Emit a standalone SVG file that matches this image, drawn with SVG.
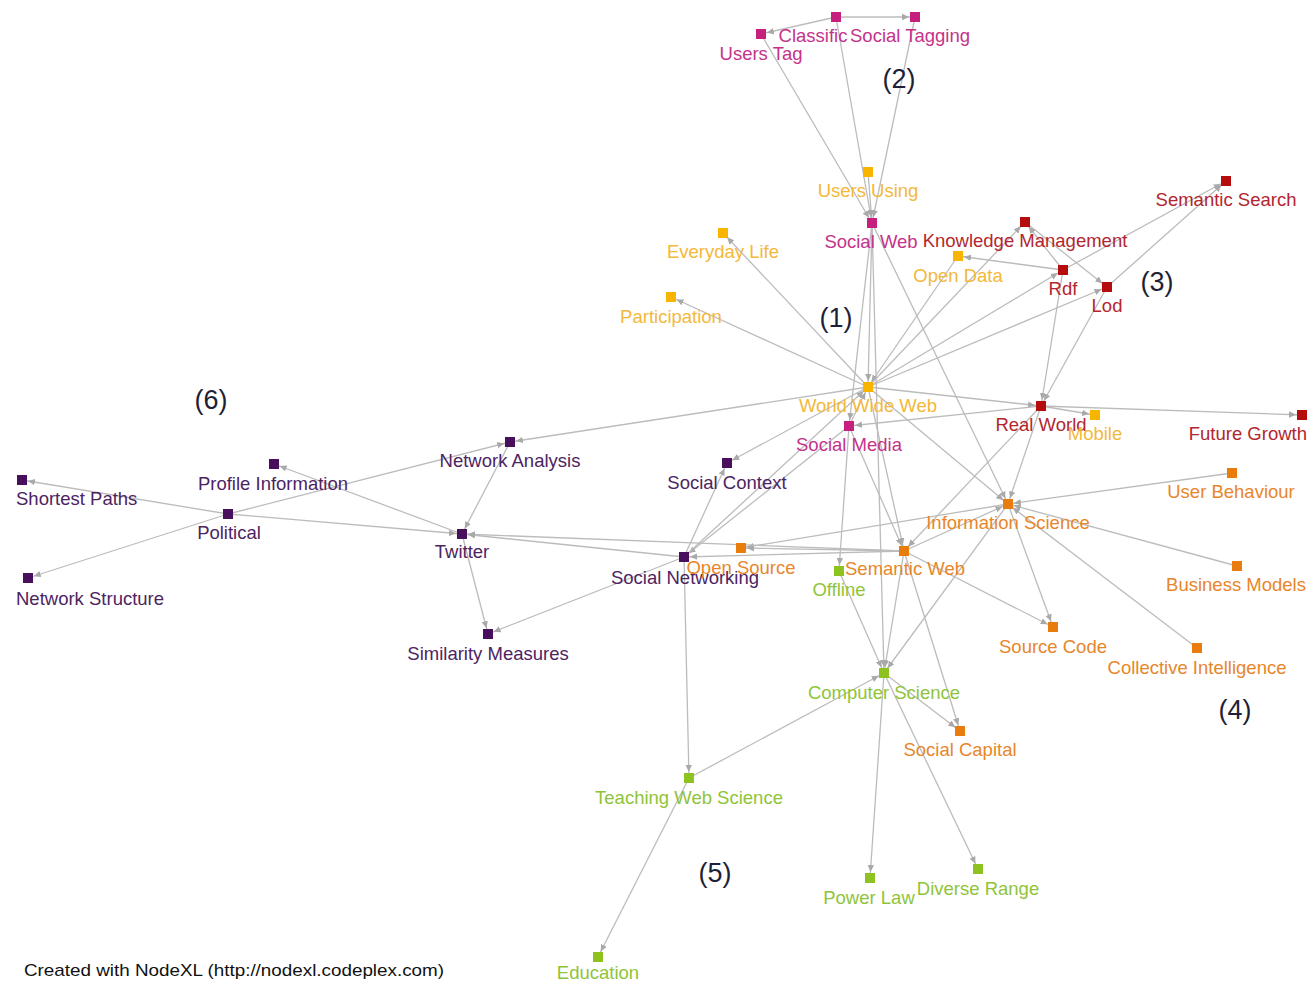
<svg xmlns="http://www.w3.org/2000/svg" width="1315" height="982" viewBox="0 0 1315 982">
<style>
text{font-family:"Liberation Sans",Arial,sans-serif;font-size:18.5px;text-anchor:middle}
.e line{stroke:#bcbcbc;stroke-width:1.3;fill:none}
.pk rect{fill:#c71f7d}.pk text{fill:#c4338a}
.yl rect{fill:#f7b500}.yl text{fill:#f4b83a}
.rd rect{fill:#b50d0d}.rd text{fill:#b3262e}
.or rect{fill:#e87d0d}.or text{fill:#e8862a}
.gr rect{fill:#8dc21f}.gr text{fill:#8fc43a}
.pu rect{fill:#4a0f5c}.pu text{fill:#4d2462}
.cl{font-family:"Liberation Sans",Arial,sans-serif;font-size:27px;fill:#1f1f38}
.ft{font-size:17px;text-anchor:start;fill:#111}
</style>
<defs>
<marker id="a" markerUnits="userSpaceOnUse" viewBox="0 0 14 8" refX="13" refY="4" markerWidth="14" markerHeight="8" orient="auto">
<path d="M0,0.8 L7,4 L0,7.2 Z" fill="#a9a9a9"/>
</marker>
</defs>
<rect width="1315" height="982" fill="#fff"/>
<g id="connectors" class="e" marker-end="url(#a)">
<line x1="836" y1="17" x2="915" y2="17" marker-end="url(#a)"/>
<line x1="836" y1="17" x2="761" y2="34" marker-end="url(#a)"/>
<line x1="761" y1="34" x2="872" y2="223" marker-end="url(#a)"/>
<line x1="836" y1="17" x2="872" y2="223" marker-end="url(#a)"/>
<line x1="915" y1="17" x2="872" y2="223" marker-end="url(#a)"/>
<line x1="868" y1="172" x2="872" y2="223" marker-end="url(#a)"/>
<line x1="872" y1="223" x2="868" y2="387" marker-end="url(#a)"/>
<line x1="872" y1="223" x2="849" y2="426" marker-end="url(#a)"/>
<line x1="872" y1="223" x2="884" y2="673" marker-end="url(#a)"/>
<line x1="872" y1="223" x2="1008" y2="504" marker-end="url(#a)"/>
<line x1="868" y1="387" x2="723" y2="233" marker-end="url(#a)"/>
<line x1="868" y1="387" x2="671" y2="297" marker-end="url(#a)"/>
<line x1="958" y1="256" x2="868" y2="387" marker-end="url(#a)"/>
<line x1="868" y1="387" x2="1025" y2="222" marker-end="url(#a)"/>
<line x1="868" y1="387" x2="1063" y2="270" marker-end="url(#a)"/>
<line x1="868" y1="387" x2="1107" y2="287" marker-end="url(#a)"/>
<line x1="868" y1="387" x2="1041" y2="406" marker-end="url(#a)"/>
<line x1="868" y1="387" x2="1008" y2="504" marker-end="url(#a)"/>
<line x1="868" y1="387" x2="510" y2="442" marker-end="url(#a)"/>
<line x1="868" y1="387" x2="727" y2="463" marker-end="url(#a)"/>
<line x1="868" y1="387" x2="904" y2="551" marker-end="url(#a)"/>
<line x1="849" y1="426" x2="868" y2="387" marker-end="url(#a)"/>
<line x1="1063" y1="270" x2="958" y2="256" marker-end="url(#a)"/>
<line x1="1063" y1="270" x2="1025" y2="222" marker-end="url(#a)"/>
<line x1="1025" y1="222" x2="1107" y2="287" marker-end="url(#a)"/>
<line x1="1063" y1="270" x2="1226" y2="181" marker-end="url(#a)"/>
<line x1="1107" y1="287" x2="1226" y2="181" marker-end="url(#a)"/>
<line x1="1063" y1="270" x2="1041" y2="406" marker-end="url(#a)"/>
<line x1="1107" y1="287" x2="1041" y2="406" marker-end="url(#a)"/>
<line x1="1041" y1="406" x2="849" y2="426" marker-end="url(#a)"/>
<line x1="1041" y1="406" x2="1095" y2="415" marker-end="url(#a)"/>
<line x1="1041" y1="406" x2="1302" y2="415" marker-end="url(#a)"/>
<line x1="1041" y1="406" x2="1008" y2="504" marker-end="url(#a)"/>
<line x1="1041" y1="406" x2="904" y2="551" marker-end="url(#a)"/>
<line x1="1232" y1="473" x2="1008" y2="504" marker-end="url(#a)"/>
<line x1="1237" y1="566" x2="1008" y2="504" marker-end="url(#a)"/>
<line x1="1197" y1="648" x2="1008" y2="504" marker-end="url(#a)"/>
<line x1="1008" y1="504" x2="1053" y2="627" marker-end="url(#a)"/>
<line x1="1008" y1="504" x2="884" y2="673" marker-end="url(#a)"/>
<line x1="1008" y1="504" x2="741" y2="548" marker-end="url(#a)"/>
<line x1="904" y1="551" x2="1008" y2="504" marker-end="url(#a)"/>
<line x1="904" y1="551" x2="741" y2="548" marker-end="url(#a)"/>
<line x1="904" y1="551" x2="462" y2="534" marker-end="url(#a)"/>
<line x1="904" y1="551" x2="684" y2="557" marker-end="url(#a)"/>
<line x1="904" y1="551" x2="884" y2="673" marker-end="url(#a)"/>
<line x1="904" y1="551" x2="960" y2="731" marker-end="url(#a)"/>
<line x1="904" y1="551" x2="1053" y2="627" marker-end="url(#a)"/>
<line x1="849" y1="426" x2="904" y2="551" marker-end="url(#a)"/>
<line x1="849" y1="426" x2="839" y2="571" marker-end="url(#a)"/>
<line x1="839" y1="571" x2="884" y2="673" marker-end="url(#a)"/>
<line x1="689" y1="778" x2="884" y2="673" marker-end="url(#a)"/>
<line x1="884" y1="673" x2="870" y2="878" marker-end="url(#a)"/>
<line x1="884" y1="673" x2="978" y2="869" marker-end="url(#a)"/>
<line x1="884" y1="673" x2="960" y2="731" marker-end="url(#a)"/>
<line x1="684" y1="557" x2="689" y2="778" marker-end="url(#a)"/>
<line x1="689" y1="778" x2="598" y2="957" marker-end="url(#a)"/>
<line x1="684" y1="557" x2="488" y2="634" marker-end="url(#a)"/>
<line x1="684" y1="557" x2="462" y2="534" marker-end="url(#a)"/>
<line x1="684" y1="557" x2="727" y2="463" marker-end="url(#a)"/>
<line x1="849" y1="426" x2="684" y2="557" marker-end="url(#a)"/>
<line x1="684" y1="557" x2="868" y2="387" marker-end="url(#a)"/>
<line x1="462" y1="534" x2="488" y2="634" marker-end="url(#a)"/>
<line x1="510" y1="442" x2="462" y2="534" marker-end="url(#a)"/>
<line x1="462" y1="534" x2="274" y2="464" marker-end="url(#a)"/>
<line x1="228" y1="514" x2="462" y2="534" marker-end="url(#a)"/>
<line x1="228" y1="514" x2="510" y2="442" marker-end="url(#a)"/>
<line x1="228" y1="514" x2="22" y2="480" marker-end="url(#a)"/>
<line x1="228" y1="514" x2="28" y2="578" marker-end="url(#a)"/>
</g>
<g id="n-users-tag" class="pk"><rect x="756" y="29" width="10" height="10"/><text x="761" y="60">Users Tag</text></g>
<g id="n-classific" class="pk"><rect x="831" y="12" width="10" height="10"/><text x="813" y="42">Classific</text></g>
<g id="n-social-tagging" class="pk"><rect x="910" y="12" width="10" height="10"/><text x="910" y="42">Social Tagging</text></g>
<g id="n-users-using" class="yl"><rect x="863" y="167" width="10" height="10"/><text x="868" y="197">Users Using</text></g>
<g id="n-social-web" class="pk"><rect x="867" y="218" width="10" height="10"/><text x="871" y="248">Social Web</text></g>
<g id="n-knowledge-management" class="rd"><rect x="1020" y="217" width="10" height="10"/><text x="1025" y="247">Knowledge Management</text></g>
<g id="n-everyday-life" class="yl"><rect x="718" y="228" width="10" height="10"/><text x="723" y="258">Everyday Life</text></g>
<g id="n-open-data" class="yl"><rect x="953" y="251" width="10" height="10"/><text x="958" y="282">Open Data</text></g>
<g id="n-rdf" class="rd"><rect x="1058" y="265" width="10" height="10"/><text x="1063" y="295">Rdf</text></g>
<g id="n-lod" class="rd"><rect x="1102" y="282" width="10" height="10"/><text x="1107" y="312">Lod</text></g>
<g id="n-semantic-search" class="rd"><rect x="1221" y="176" width="10" height="10"/><text x="1226" y="206">Semantic Search</text></g>
<g id="n-participation" class="yl"><rect x="666" y="292" width="10" height="10"/><text x="671" y="323">Participation</text></g>
<g id="n-world-wide-web" class="yl"><rect x="863" y="382" width="10" height="10"/><text x="868" y="412">World Wide Web</text></g>
<g id="n-real-world" class="rd"><rect x="1036" y="401" width="10" height="10"/><text x="1041" y="431">Real World</text></g>
<g id="n-mobile" class="yl"><rect x="1090" y="410" width="10" height="10"/><text x="1095" y="440">Mobile</text></g>
<g id="n-future-growth" class="rd"><rect x="1297" y="410" width="10" height="10"/><text x="1307" y="440" style="text-anchor:end">Future Growth</text></g>
<g id="n-social-media" class="pk"><rect x="844" y="421" width="10" height="10"/><text x="849" y="451">Social Media</text></g>
<g id="n-network-analysis" class="pu"><rect x="505" y="437" width="10" height="10"/><text x="510" y="467">Network Analysis</text></g>
<g id="n-social-context" class="pu"><rect x="722" y="458" width="10" height="10"/><text x="727" y="489">Social Context</text></g>
<g id="n-profile-information" class="pu"><rect x="269" y="459" width="10" height="10"/><text x="273" y="490">Profile Information</text></g>
<g id="n-shortest-paths" class="pu"><rect x="17" y="475" width="10" height="10"/><text x="16" y="505" style="text-anchor:start">Shortest Paths</text></g>
<g id="n-user-behaviour" class="or"><rect x="1227" y="468" width="10" height="10"/><text x="1231" y="498">User Behaviour</text></g>
<g id="n-information-science" class="or"><rect x="1003" y="499" width="10" height="10"/><text x="1008" y="529">Information Science</text></g>
<g id="n-political" class="pu"><rect x="223" y="509" width="10" height="10"/><text x="229" y="539">Political</text></g>
<g id="n-twitter" class="pu"><rect x="457" y="529" width="10" height="10"/><text x="462" y="558">Twitter</text></g>
<g id="n-social-networking" class="pu"><rect x="679" y="552" width="10" height="10"/><text x="685" y="584">Social Networking</text></g>
<g id="n-open-source" class="or"><rect x="736" y="543" width="10" height="10"/><text x="741" y="574">Open Source</text></g>
<g id="n-offline" class="gr"><rect x="834" y="566" width="10" height="10"/><text x="839" y="596">Offline</text></g>
<g id="n-semantic-web" class="or"><rect x="899" y="546" width="10" height="10"/><text x="905" y="575">Semantic Web</text></g>
<g id="n-business-models" class="or"><rect x="1232" y="561" width="10" height="10"/><text x="1236" y="591">Business Models</text></g>
<g id="n-network-structure" class="pu"><rect x="23" y="573" width="10" height="10"/><text x="16" y="605" style="text-anchor:start">Network Structure</text></g>
<g id="n-source-code" class="or"><rect x="1048" y="622" width="10" height="10"/><text x="1053" y="653">Source Code</text></g>
<g id="n-similarity-measures" class="pu"><rect x="483" y="629" width="10" height="10"/><text x="488" y="660">Similarity Measures</text></g>
<g id="n-collective-intelligence" class="or"><rect x="1192" y="643" width="10" height="10"/><text x="1197" y="674">Collective Intelligence</text></g>
<g id="n-computer-science" class="gr"><rect x="879" y="668" width="10" height="10"/><text x="884" y="699">Computer Science</text></g>
<g id="n-social-capital" class="or"><rect x="955" y="726" width="10" height="10"/><text x="960" y="756">Social Capital</text></g>
<g id="n-teaching-web-science" class="gr"><rect x="684" y="773" width="10" height="10"/><text x="689" y="804">Teaching Web Science</text></g>
<g id="n-diverse-range" class="gr"><rect x="973" y="864" width="10" height="10"/><text x="978" y="895">Diverse Range</text></g>
<g id="n-power-law" class="gr"><rect x="865" y="873" width="10" height="10"/><text x="869" y="904">Power Law</text></g>
<g id="n-education" class="gr"><rect x="593" y="952" width="10" height="10"/><text x="598" y="979">Education</text></g>
<g id="cluster-labels">
<text class="cl" x="836" y="327">(1)</text>
<text class="cl" x="899" y="88">(2)</text>
<text class="cl" x="1157" y="291">(3)</text>
<text class="cl" x="1235" y="719">(4)</text>
<text class="cl" x="715" y="882">(5)</text>
<text class="cl" x="211" y="409">(6)</text>
</g>
<text class="ft" x="24" y="976" textLength="420" lengthAdjust="spacingAndGlyphs">Created with NodeXL (http://nodexl.codeplex.com)</text>
</svg>
